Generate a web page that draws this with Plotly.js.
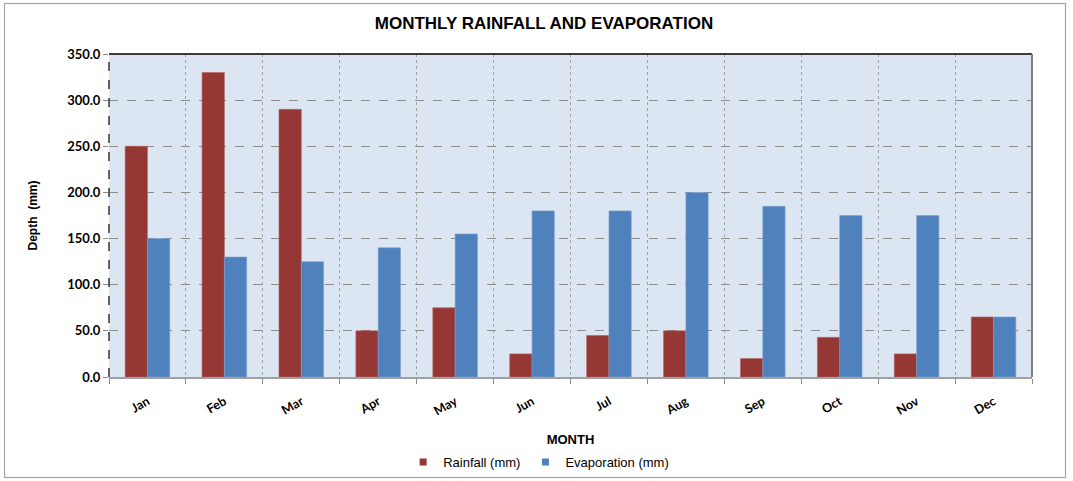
<!DOCTYPE html>
<html>
<head>
<meta charset="utf-8">
<script src="https://cdn.plot.ly/plotly-3.0.1.min.js"></script>
<style>
  html, body { margin: 0; padding: 0; background: #ffffff; }
  #chart { width: 1073px; height: 481px; }
</style>
</head>
<body>
<div id="chart"></div>
<script>
// Monthly depths in millimetres
const months = ["Jan", "Feb", "Mar", "Apr", "May", "Jun", "Jul", "Aug", "Sep", "Oct", "Nov", "Dec"];
const rainfall = [250, 330, 290, 50, 75, 25, 45, 50, 20, 43, 25, 65];
const evaporation = [150, 130, 125, 140, 155, 180, 180, 200, 185, 175, 175, 65];
const yTicks = [0, 50, 100, 150, 200, 250, 300, 350];

const rainColor = "#953735";
const evapColor = "#4f81bd";
const fontMain = "Liberation Sans, Arial, sans-serif";
const fontTick = "Lato, Open Sans, sans-serif";

const traces = [
  {
    type: "bar",
    name: "Rainfall (mm)",
    x: months,
    y: rainfall,
    marker: { color: rainColor, line: { color: "#b7605e", width: 0.6 } },
    showlegend: false,
    legendgroup: "rain"
  },
  {
    type: "bar",
    name: "Evaporation (mm)",
    x: months,
    y: evaporation,
    marker: { color: evapColor, line: { color: "#7da2d1", width: 0.6 } },
    showlegend: false,
    legendgroup: "evap"
  },
  // legend keys: small square swatches
  {
    type: "scatter", mode: "markers", name: "Rainfall (mm)",
    x: [null], y: [null], legendgroup: "rain",
    marker: { symbol: "square", size: 7, color: rainColor }
  },
  {
    type: "scatter", mode: "markers", name: "Evaporation (mm)",
    x: [null], y: [null], legendgroup: "evap",
    marker: { symbol: "square", size: 7, color: evapColor }
  }
];

const layout = {
  width: 1073,
  height: 481,
  margin: { l: 109, r: 41, t: 54, b: 104 },
  paper_bgcolor: "#ffffff",
  plot_bgcolor: "#dce6f2",
  barmode: "group",
  bargap: 0.42,
  bargroupgap: 0,
  showlegend: true,
  title: {
    text: "<b>MONTHLY RAINFALL AND EVAPORATION</b>",
    font: { family: fontMain, size: 17, color: "#000000" },
    x: 0.507, xanchor: "center",
    y: 0.953, yanchor: "middle"
  },
  xaxis: {
    type: "category",
    tickson: "boundaries",
    ticks: "outside",
    ticklen: 5,
    tickcolor: "#8a8a8a",
    tickangle: -30,
    ticklabelstandoff: 11,
    tickfont: { family: fontTick, size: 12.5, color: "#000000", weight: "bold" },
    showgrid: true,
    gridcolor: "#a3a3a3",
    griddash: "dot",
    gridwidth: 1,
    showline: true,
    linecolor: "#a0a0a0",
    linewidth: 1.5,
    zeroline: false,
    automargin: false,
    title: {
      text: "<b>MONTH</b>",
      font: { family: fontMain, size: 13, color: "#000000" },
      standoff: 20
    }
  },
  yaxis: {
    range: [0, 350],
    tickvals: yTicks,
    tickformat: ".1f",
    ticks: "outside",
    ticklen: 5,
    tickcolor: "#8a8a8a",
    tickfont: { family: fontTick, size: 13, color: "#000000", weight: "bold" },
    showgrid: true,
    gridcolor: "#8c8c8c",
    griddash: "dash",
    gridwidth: 1,
    zeroline: false,
    showline: false,
    automargin: false,
    title: {
      text: "<b>Depth  (mm)</b>",
      font: { family: fontMain, size: 12, color: "#000000" },
      standoff: 26
    }
  },
  legend: {
    orientation: "h",
    xref: "container", yref: "container",
    x: 0.502, xanchor: "center",
    y: 0.0395, yanchor: "middle",
    font: { family: fontMain, size: 13, color: "#000000" },
    itemwidth: 30,
    bgcolor: "rgba(0,0,0,0)",
    traceorder: "normal"
  },
  shapes: [
    // plot top edge
    { type: "line", xref: "paper", yref: "paper", x0: 0, x1: 1, y0: 1, y1: 1,
      line: { color: "#000000", width: 1.5 } },
    // plot right edge
    { type: "line", xref: "paper", yref: "paper", x0: 1, x1: 1, y0: 0, y1: 1,
      line: { color: "#7f7f7f", width: 2 } },
    // plot left edge
    { type: "line", xref: "paper", yref: "paper", x0: 0, x1: 0, y0: 0, y1: 1,
      line: { color: "#333333", width: 1.5, dash: "dash" } }
  ]
};

Plotly.newPlot("chart", traces, layout, { displayModeBar: false, staticPlot: true }).then(function () {
  // outer frame around the whole chart
  const svg = document.querySelector("#chart .main-svg");
  const ns = "http://www.w3.org/2000/svg";
  const rect = document.createElementNS(ns, "rect");
  rect.setAttribute("x", 4.5);
  rect.setAttribute("y", 3.5);
  rect.setAttribute("width", 1061);
  rect.setAttribute("height", 474);
  rect.setAttribute("fill", "none");
  rect.setAttribute("stroke", "#a6a6a6");
  rect.setAttribute("stroke-width", 1.2);
  svg.appendChild(rect);
});
</script>
</body>
</html>
